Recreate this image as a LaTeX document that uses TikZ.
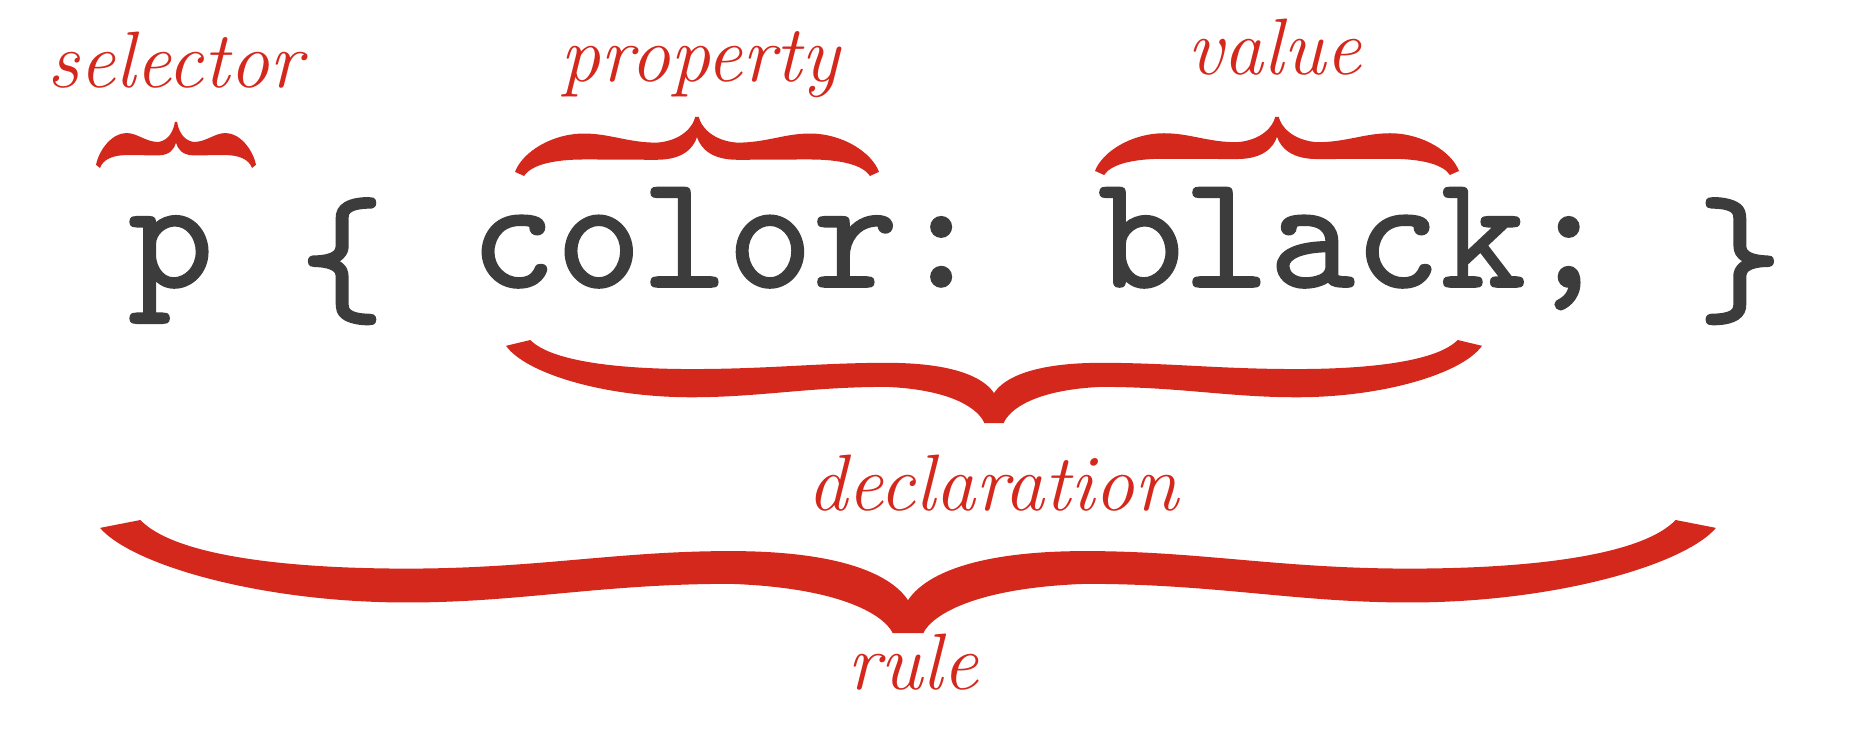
\documentclass[tikz,border=0pt]{standalone}
\usepackage{fontspec}
\usepackage{graphicx}
\newfontfamily\codefont{lmmono10-regular.otf}[FakeBold=1.0]
\definecolor{bracered}{HTML}{D5281D}
\definecolor{codegray}{HTML}{3C3C3C}
% #1 cx, #2 y of ends, #3 y of tip, #4 half width, #5 arm centre, #6 arm half thickness, #7 crotch, #8 tip half width
\newcommand\cbrace[8]{%
  \begin{scope}[shift={(#1,#2)}, xscale=#4, yscale={(#3)-(#2)}]
    \fill[bracered]
      (#8,1) .. controls ({#8+0.01},0.85) and (0.08,0.60) .. (0.22,0.565)
      .. controls (0.38,0.565) and (0.48,{#5+#6}) .. (0.62,{#5+#6})
      .. controls (0.80,{#5+#6}) and (0.96,0.40) .. (1.0,0.07)
      -- (0.95,0.0)
      .. controls (0.91,{0.7*(#5-#6)}) and (0.78,{#5-#6}) .. (0.62,{#5-#6})
      .. controls (0.46,{#5-#6}) and (0.36,0.275) .. (0.22,0.275)
      .. controls (0.08,0.275) and (0.02,{(0.275+#7)/2}) .. (0,#7)
      .. controls (-0.02,{(0.275+#7)/2}) and (-0.08,0.275) .. (-0.22,0.275)
      .. controls (-0.36,0.275) and (-0.46,{#5-#6}) .. (-0.62,{#5-#6})
      .. controls (-0.78,{#5-#6}) and (-0.91,{0.7*(#5-#6)}) .. (-0.95,0.0)
      -- (-1.0,0.07)
      .. controls (-0.96,0.40) and (-0.80,{#5+#6}) .. (-0.62,{#5+#6})
      .. controls (-0.48,{#5+#6}) and (-0.38,0.565) .. (-0.22,0.565)
      .. controls (-0.08,0.60) and ({-#8-0.01},0.85) .. (-#8,1)
      -- cycle;
  \end{scope}}
\newcommand\lowbr[1]{\raisebox{-24pt}{#1}}
\tikzset{
  lbl/.style={text=bracered, font=\itshape\fontsize{80}{90}\selectfont, inner sep=0pt, anchor=base},
  codetext/.style={text=codegray, font=\codefont\fontsize{163}{170}\selectfont, inner sep=0pt, anchor=base west}
}
\begin{document}
\begin{tikzpicture}[x=1pt,y=-1pt]
  \fill[white] (0,0) rectangle (1850,730);
  \useasboundingbox (0,0) rectangle (1850,730);

  \node[codetext] (code) at (128,287) {p \lowbr{\{} color: black; \lowbr{\}}};

  \node[lbl] (selector) at (175,88) {selector};
  \node[lbl] (property) at (700,82) {property};
  \node[lbl] (value) at (1274,75) {value};
  \node[lbl] (declaration) at (993,510) {declaration};
  \node[lbl] (rule) at (913,689) {rule};

  \cbrace{176}{168}{122}{80}{0.52}{0.24}{0.55}{0.015}
  \cbrace{697}{176}{117}{182}{0.50}{0.22}{0.66}{0.01}
  \cbrace{1277}{175}{117}{182}{0.50}{0.22}{0.66}{0.01}
  \cbrace{994}{340}{423}{488}{0.52}{0.17}{0.64}{0.02}
  \cbrace{908}{520}{633}{808}{0.58}{0.15}{0.71}{0.019}
\end{tikzpicture}
\end{document}
